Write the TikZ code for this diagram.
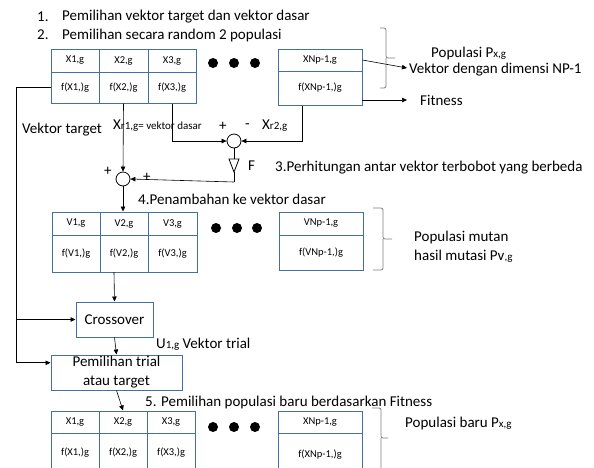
\documentclass[tikz,border=0pt]{standalone}
\usepackage{fontspec}
\setmainfont{Carlito}
\usetikzlibrary{arrows.meta,calc}
\definecolor{boxblue}{RGB}{65,113,156}
\definecolor{bracegray}{RGB}{125,125,125}
\newcommand{\sm}[1]{{\fontsize{11}{13}\selectfont #1}}
\begin{document}
\begin{tikzpicture}[x=1pt,y=-1pt,
  cell/.style={draw=boxblue,line width=1pt,inner sep=0pt,font=\fontsize{10.5}{12}\selectfont},
  bigbox/.style={draw=boxblue,line width=1pt,inner sep=0pt,font=\fontsize{15}{19}\selectfont,align=center},
  lbl/.style={inner sep=0pt,anchor=west,font=\fontsize{15}{18}\selectfont},
  ar/.style={-{Triangle[length=5pt,width=4.5pt]},line width=0.6pt},
  ln/.style={line width=0.6pt},
  sumc/.style={circle,draw,line width=0.8pt,minimum size=14pt,inner sep=0pt},
  brc/.style={draw=bracegray,line width=0.8pt,rounded corners=2pt},
  bdot/.style={circle,fill,inner sep=0pt,minimum size=10pt}]
\useasboundingbox (0,0) rectangle (594,467);
\clip (0,0) rectangle (594,467);

% ---- texts at top
\node[lbl] (n1) at (37,17) {1.};
\node[lbl] (t1) at (62,17) {Pemilihan vektor target dan vektor dasar};
\node[lbl] (n2) at (37,35) {2.};
\node[lbl] (t2) at (62,35) {Pemilihan secara random 2 populasi};

% ---- population 1
\node[cell,minimum width=48pt,minimum height=23pt] (a1) at (75,60.5) {X1,g};
\node[cell,minimum width=49pt,minimum height=23pt] (a2) at (123.5,60.5) {X2,g};
\node[cell,minimum width=48pt,minimum height=23pt] (a3) at (172,60.5) {X3,g};
\node[cell,minimum width=48pt,minimum height=31pt] (fa1) at (75,87.5) {f(X1,)g};
\node[cell,minimum width=49pt,minimum height=31pt] (fa2) at (123.5,87.5) {f(X2,)g};
\node[cell,minimum width=48pt,minimum height=31pt] (fa3) at (172,87.5) {f(X3,)g};
\node[bdot] (d1) at (213,63) {};
\node[bdot] (d2) at (234,63) {};
\node[bdot] (d3) at (255,63) {};
\node[cell,minimum width=84pt,minimum height=22pt] (an) at (320,60) {XNp-1,g};
\node[cell,minimum width=84pt,minimum height=34pt] (fan) at (320,88) {\raisebox{-7pt}{f(XNp-1,)g}};

\draw[brc] (380,28) -- (386,28) -- (386,58) -- (395,58) (386,58) -- (386,88) -- (380,88);
\node[lbl] (popx) at (431,53) {Populasi P\sm{x,g}};
\node[lbl] (vdim) at (409,70) {Vektor dengan dimensi NP-1};
\node[lbl] (fit) at (420,100) {Fitness};
\coordinate (vend) at (407,68);
\coordinate (fstart) at (362,100);
\coordinate (fend) at (407,100);
\draw[ar] (an.east) -- (vend);
\draw[ar] (fstart) -- (fend);

% ---- mutation
\node[lbl] (vt) at (22,130) {Vektor target};
\node[lbl] (xr1) at (113,126) {X\sm{r1,g= vektor dasar}};
\node[lbl] (pl1) at (219,126) {+};
\node[lbl] (mi) at (245,126) {-};
\node[lbl] (xr2) at (262,126) {X\sm{r2,g}};
\node[sumc] (s2) at (234,141) {};
\node[sumc] (s1) at (123,179) {};
\coordinate (ftl) at (229,159);
\coordinate (ftr) at (239,159);
\coordinate (fap) at (234,172);
\draw[line width=0.8pt] (ftl) -- (ftr) -- (fap) -- cycle;
\node[lbl] (F) at (248,166) {F};
\node[lbl] (t3) at (275,168) {3.Perhitungan antar vektor terbobot yang berbeda};
\node[lbl] (pl2) at (104,171) {+};
\node[lbl] (pl3) at (143,177) {+};

\draw[ar] (fa2.south) -- (s1.north);
\draw[ar] (fa3.south) |- (s2.west);
\draw[ar] ($(fan.south west)!0.29!(fan.south east)$) |- (s2.east);
\draw[ln] (s2.south) -- (s2.south |- ftl);
\draw[ln] (fap) -- (234,182);
\draw[ar] (234,182) -- (s1.east);

\node[lbl] (t4) at (138,199) {4.Penambahan ke vektor dasar};

% ---- population 2
\node[cell,minimum width=48pt,minimum height=23pt] (b1) at (76,223.5) {V1,g};
\node[cell,minimum width=48pt,minimum height=23pt] (b2) at (124,223.5) {V2,g};
\node[cell,minimum width=49pt,minimum height=23pt] (b3) at (172.5,223.5) {V3,g};
\node[cell,minimum width=48pt,minimum height=37pt] (fb1) at (76,253.5) {f(V1,)g};
\node[cell,minimum width=48pt,minimum height=37pt] (fb2) at (124,253.5) {f(V2,)g};
\node[cell,minimum width=49pt,minimum height=37pt] (fb3) at (172.5,253.5) {f(V3,)g};
\node[bdot] (e1) at (216,228) {};
\node[bdot] (e2) at (237,228) {};
\node[bdot] (e3) at (257,228) {};
\node[cell,minimum width=84pt,minimum height=23pt] (bn) at (321,223.5) {VNp-1,g};
\node[cell,minimum width=84pt,minimum height=35pt] (fbn) at (321,252.5) {\raisebox{-7pt}{f(VNp-1,)g}};
\draw[brc] (373,208) -- (383,208) -- (383,239) -- (392,239) (383,239) -- (383,270) -- (373,270);
\node[lbl] (pm1) at (414,237) {Populasi mutan};
\node[lbl] (pm2) at (414,256) {hasil mutasi Pv\sm{,g}};

\draw[ar] (s1.south) -- (s1.south |- b2.north);

% ---- crossover & selection
\node[bigbox,minimum width=77pt,minimum height=35pt] (cross) at (114.5,319.5) {Crossover};
\node[bigbox,minimum width=131pt,minimum height=35pt] (sel) at (116.5,372.5) {Pemilihan trial\\atau target};
\node[lbl] (u1) at (156,344) {U\sm{1,g} Vektor trial};
\node[lbl] (t5) at (145,402) {5. Pemilihan populasi baru berdasarkan Fitness};

\draw[ar] (114,272) -- (cross.north);
\draw[ar] (cross.south) -- (sel.north);
\coordinate (lcorner) at (16,87.5);
\coordinate (selin) at ($(sel.north west)!0.23!(sel.south west)$);
\draw[ln] (fa1.west) -- (lcorner);
\draw[ar] (lcorner) |- (selin);
\draw[ar] (lcorner |- cross.west) -- (cross.west);

% ---- population 3
\node[cell,minimum width=48pt,minimum height=22pt] (c1) at (75,422) {X1,g};
\node[cell,minimum width=48pt,minimum height=22pt] (c2) at (123,422) {X2,g};
\node[cell,minimum width=48pt,minimum height=22pt] (c3) at (171,422) {X3,g};
\node[cell,minimum width=48pt,minimum height=40pt] (fc1) at (75,453) {f(X1,)g};
\node[cell,minimum width=48pt,minimum height=40pt] (fc2) at (123,453) {f(X2,)g};
\node[cell,minimum width=48pt,minimum height=40pt] (fc3) at (171,453) {f(X3,)g};
\node[bdot] (g1) at (213,427) {};
\node[bdot] (g2) at (234,427) {};
\node[bdot] (g3) at (255,427) {};
\node[cell,minimum width=84pt,minimum height=22pt] (cn) at (320,422) {XNp-1,g};
\node[cell,minimum width=84pt,minimum height=44pt] (fcn) at (320,455) {f(XNp-1,)g};
\draw[brc] (372,408) -- (381,408) -- (381,438) -- (388,438) (381,438) -- (381,475);
\node[lbl] (pb) at (405,423) {Populasi baru P\sm{x,g}};

\draw[ar] (sel.south) -- (c2.north);
\end{tikzpicture}
\end{document}
